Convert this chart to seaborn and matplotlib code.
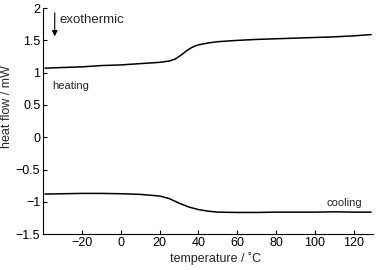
import matplotlib
matplotlib.use("Agg")
import matplotlib.pyplot as plt
import seaborn as sns
import pandas as pd

heat_t = [-39, -30, -20, -10, 0, 10, 15, 20, 25, 28, 31, 34, 36, 38, 40, 45, 50, 60, 70, 80, 90, 100, 110, 120, 129]
heat_v = [1.07, 1.08, 1.09, 1.11, 1.12, 1.14, 1.15, 1.16, 1.18, 1.21, 1.27, 1.34, 1.38, 1.41, 1.43, 1.46, 1.48, 1.50, 1.515, 1.525, 1.535, 1.545, 1.555, 1.57, 1.59]
cool_t = [-39, -30, -20, -10, 0, 10, 20, 25, 30, 35, 40, 45, 50, 60, 70, 80, 90, 100, 110, 120, 129]
cool_v = [-0.88, -0.875, -0.87, -0.87, -0.875, -0.885, -0.91, -0.95, -1.02, -1.08, -1.12, -1.145, -1.16, -1.165, -1.165, -1.16, -1.16, -1.16, -1.155, -1.16, -1.16]
xticks = [-20, 0, 20, 40, 60, 80, 100, 120]
yticks = [-1.5, -1, -0.5, 0, 0.5, 1, 1.5, 2]

sns.set_style("ticks")
plt.rcParams['font.family'] = ['Liberation Sans', 'DejaVu Sans']
plt.rcParams['axes.unicode_minus'] = True

fig = plt.figure(figsize=(3.78, 2.70), dpi=100)
ax = fig.add_axes([0.114, 0.133, 0.873, 0.837])

df_h = pd.DataFrame({"t": heat_t, "v": heat_v})
df_c = pd.DataFrame({"t": cool_t, "v": cool_v})
sns.lineplot(data=df_h, x="t", y="v", ax=ax, color="black", lw=1.1)
sns.lineplot(data=df_c, x="t", y="v", ax=ax, color="black", lw=1.1)

ax.set_xlim(-40, 130)
ax.set_ylim(-1.5, 2)
ax.set_xticks(xticks)
ax.set_yticks(yticks)
ax.set_yticklabels(["\u22121.5", "\u22121", "\u22120.5", "0", "0.5", "1", "1.5", "2"])
ax.set_xticklabels(["\u221220", "0", "20", "40", "60", "80", "100", "120"])
ax.tick_params(direction="in", length=3, width=0.8, labelsize=9, colors="black", pad=2)
sns.despine(ax=ax)
for s in ["left", "bottom"]:
    ax.spines[s].set_linewidth(0.8)
    ax.spines[s].set_color("black")

ax.set_xlabel("temperature / \u02daC", fontsize=9)
ax.set_ylabel("heat flow / mW", fontsize=9)
ax.yaxis.set_label_coords(-0.09, 0.565)
ax.xaxis.set_label_coords(0.524, -0.08)

ax.annotate("", xy=(-34, 1.52), xytext=(-34, 1.97),
            arrowprops=dict(arrowstyle="-|>", color="black", lw=0.8, mutation_scale=8))
ax.text(-31.5, 1.82, "exothermic", fontsize=9.5, va="center", ha="left")
ax.text(-35.5, 0.80, "heating", fontsize=8, va="center", ha="left")
ax.text(115, -1.02, "cooling", fontsize=8, va="center", ha="center")

fig.savefig("out.png", dpi=100)
